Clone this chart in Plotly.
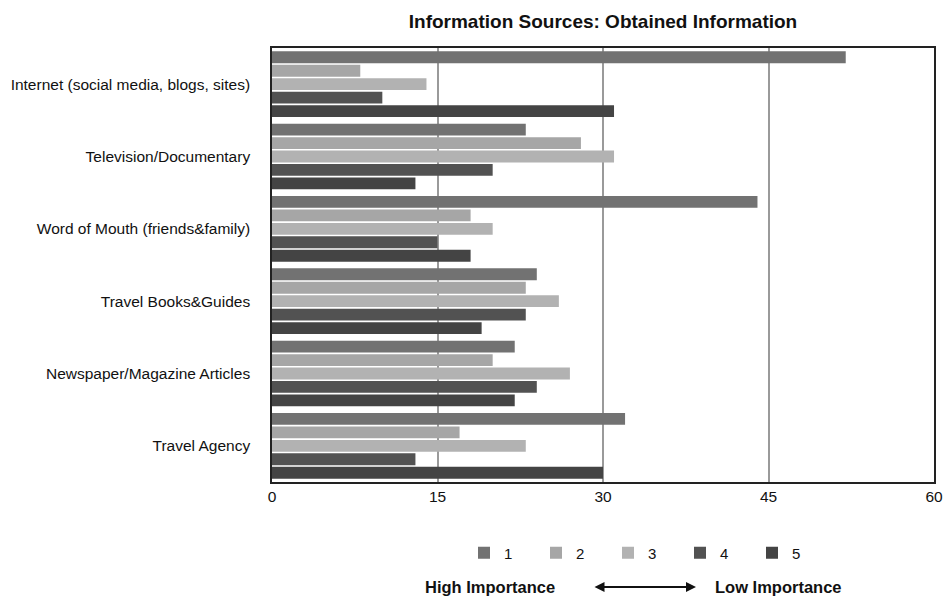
import plotly.graph_objects as go

categories = ["Internet (social media, blogs, sites)", "Television/Documentary",
              "Word of Mouth (friends&family)", "Travel Books&Guides",
              "Newspaper/Magazine Articles", "Travel Agency"]
series_names = ["1", "2", "3", "4", "5"]
values = {
    "1": [52, 23, 44, 24, 22, 32],
    "2": [8, 28, 18, 23, 20, 17],
    "3": [14, 31, 20, 26, 27, 23],
    "4": [10, 20, 15, 23, 24, 13],
    "5": [31, 13, 18, 19, 22, 30],
}
colors = {"1": "#727272", "2": "#a6a6a6", "3": "#b2b2b2", "4": "#525252", "5": "#444444"}
x_ticks = [0, 15, 30, 45, 60]

W, H = 944, 596
L, R, T, B = 272, 10, 48, 114
pw, ph = W - L - R, H - T - B

fig = go.Figure()
for s in series_names:
    fig.add_trace(go.Bar(
        y=categories, x=values[s], name=s, orientation="h",
        marker=dict(color=colors[s], line=dict(width=0)),
    ))

font = "Liberation Sans, Arial, sans-serif"
fig.update_layout(
    width=W, height=H,
    margin=dict(l=L, r=R, t=T, b=B, autoexpand=False),
    paper_bgcolor="white", plot_bgcolor="white",
    barmode="group", bargap=0.07, bargroupgap=0.12,
    font=dict(family=font, size=15, color="#111"),
    title=dict(text="<b>Information Sources: Obtained Information</b>",
               x=603 / W, xanchor="center", y=1 - 21 / H, yanchor="middle",
               font=dict(size=19, family=font, color="#111")),
    xaxis=dict(range=[0, 60], tickvals=x_ticks, ticktext=[str(v) for v in x_ticks],
               showgrid=True, gridcolor="#9a9a9a", gridwidth=1.5,
               showline=True, linecolor="#222", linewidth=1.5, mirror=True,
               ticks="", zeroline=False, tickfont=dict(size=15.5, color="#111")),
    yaxis=dict(autorange="reversed", showline=True, linecolor="#222", linewidth=1.5,
               mirror=True, ticks="", ticklabelstandoff=17, tickfont=dict(size=15.5, color="#111")),
    legend=dict(orientation="h", x=(464 - L) / pw, xanchor="left",
                y=(T + ph - 553) / ph, yanchor="middle",
                traceorder="normal", entrywidth=27, entrywidthmode="pixels",
                font=dict(size=15, color="#111"), itemsizing="constant"),
    showlegend=True,
)

ann_y = (T + ph - 587) / ph
fig.add_annotation(xref="paper", yref="paper", x=(490 - L) / pw, y=ann_y,
                   text="<b>High Importance</b>", showarrow=False,
                   font=dict(size=16.5, family=font, color="#111"), xanchor="center", yanchor="middle")
fig.add_annotation(xref="paper", yref="paper", x=(778 - L) / pw, y=ann_y,
                   text="<b>Low Importance</b>", showarrow=False,
                   font=dict(size=16.5, family=font, color="#111"), xanchor="center", yanchor="middle")
fig.add_annotation(xref="paper", yref="paper", x=(696 - L) / pw, y=ann_y,
                   text="", showarrow=True, ax=-103, ay=0, arrowside="end+start",
                   arrowhead=2, arrowsize=1, arrowwidth=2, arrowcolor="#111")

fig.write_html("out.html")
